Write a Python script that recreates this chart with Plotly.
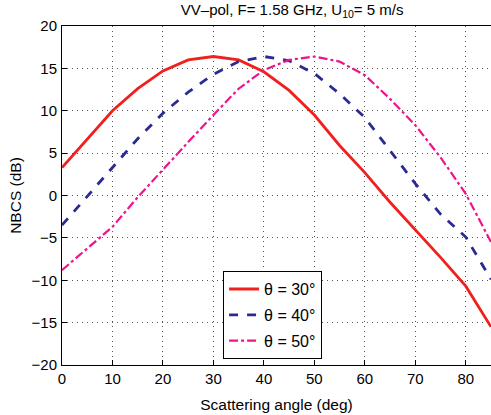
import plotly.graph_objects as go

angles = [0, 5, 10, 15, 20, 25, 30, 35, 40, 45, 50, 55, 60, 65, 70, 75, 80, 85]
nbcs_30 = [3.3, 6.7, 10.0, 12.6, 14.7, 16.0, 16.4, 16.0, 14.6, 12.4, 9.5, 5.9, 2.7, -0.8, -4.0, -7.3, -10.7, -15.5]
nbcs_40 = [-3.5, -0.1, 3.3, 6.7, 9.7, 12.2, 14.3, 15.8, 16.4, 15.9, 14.4, 12.0, 9.2, 5.3, 1.4, -2.2, -4.9, -9.9]
nbcs_50 = [-8.8, -6.3, -3.7, -0.2, 3.1, 6.3, 9.5, 12.6, 14.8, 16.0, 16.4, 15.8, 14.2, 11.4, 8.3, 4.5, 0.2, -5.5]
names = ["θ = 30°", "θ = 40°", "θ = 50°"]
xticks = [0, 10, 20, 30, 40, 50, 60, 70, 80]
yticks = [-20, -15, -10, -5, 0, 5, 10, 15, 20]

fig = go.Figure()
fig.add_trace(go.Scatter(x=angles, y=nbcs_30, mode="lines", name=names[0], legendgroup="a",
                         line=dict(color="#f0201e", width=2.8, dash="solid")))
fig.add_trace(go.Scatter(x=angles, y=nbcs_40, mode="lines", name=names[1], legendgroup="b",
                         line=dict(color="#2a2a90", width=2.8, dash="dash")))
fig.add_trace(go.Scatter(x=angles, y=nbcs_50, mode="lines", name=names[2], legendgroup="c",
                         line=dict(color="#f0148c", width=2.2, dash="dashdot")))

grid = dict(showgrid=True, gridcolor="#555555", griddash="1px,4px", gridwidth=1,
            zeroline=False, ticks="inside", ticklen=5, tickcolor="black",
            tickfont=dict(size=15, color="black"))

fig.update_layout(
    width=491, height=415,
    margin=dict(l=62, r=0, t=26, b=50),
    paper_bgcolor="white", plot_bgcolor="white",
    font=dict(family="Liberation Sans, Arial, sans-serif", size=15, color="black"),
    title=dict(text="VV\u2013pol, F= 1.58 GHz, U<sub>10</sub>= 5 m/s",
               x=0.595, xanchor="center", y=0.99, yanchor="top",
               font=dict(size=15)),
    xaxis=dict(range=[0, 85], tickvals=xticks,
               showline=True, linecolor="black", linewidth=1, mirror=True,
               title=dict(text="Scattering angle (deg)", standoff=13, font=dict(size=15.5)),
               **grid),
    yaxis=dict(range=[-20, 20], tickvals=yticks, ticklabelstandoff=1,
               showline=True, linecolor="black", linewidth=1, mirror=False,
               title=dict(text="NBCS (dB)", standoff=6, font=dict(size=15.5)),
               **grid),
    legend=dict(x=0.375, y=0.018, xanchor="left", yanchor="bottom",
                bgcolor="white", bordercolor="black", borderwidth=1.2,
                font=dict(size=16), tracegroupgap=2, itemwidth=30),
    showlegend=True,
)

fig.write_html("out.html")
